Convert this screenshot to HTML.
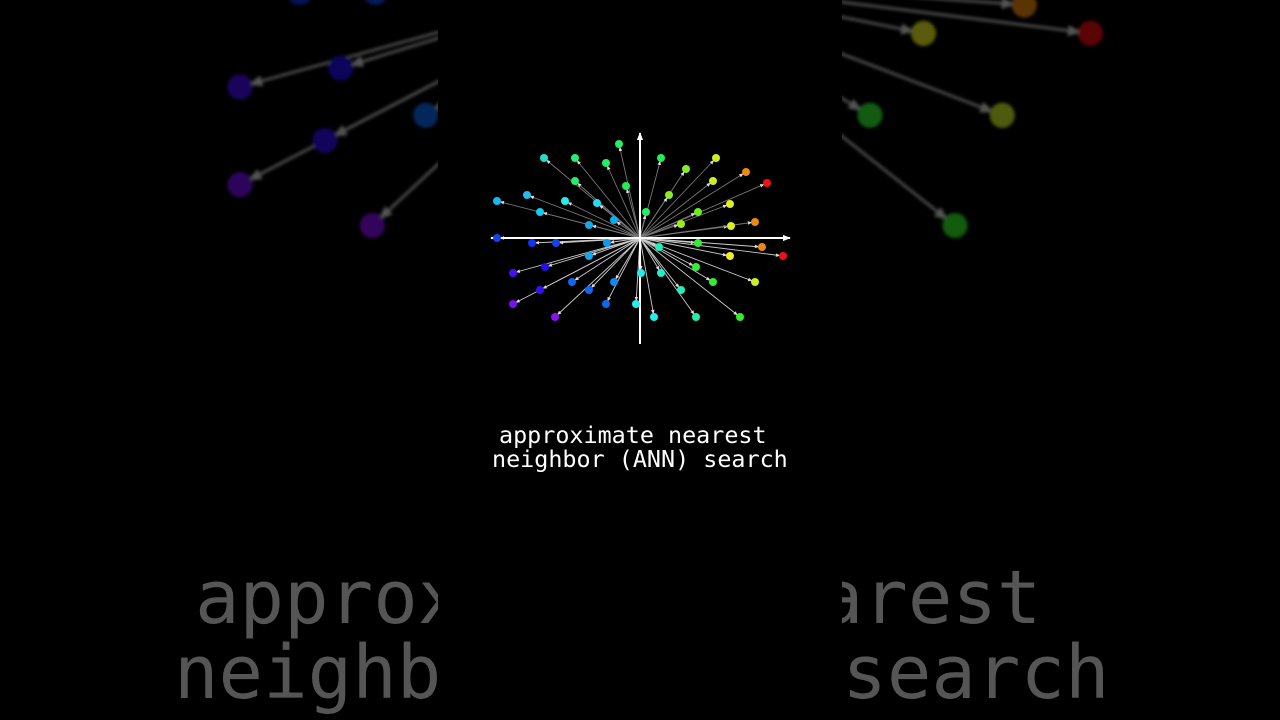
<!DOCTYPE html>
<html><head><meta charset="utf-8"><style>
html,body{margin:0;padding:0;background:#000;width:1280px;height:720px;overflow:hidden}
svg{display:block}
</style></head><body>
<svg width="1280" height="720" viewBox="0 0 1280 720" xmlns="http://www.w3.org/2000/svg">
<defs>
<marker id="ah" viewBox="0 0 10 10" refX="16" refY="5" markerWidth="5" markerHeight="5" orient="auto"><path d="M0,1 L10,5 L0,9 z" fill="#ddd"/></marker>
<marker id="ax" viewBox="0 0 10 10" refX="9" refY="5" markerWidth="8" markerHeight="8" orient="auto" markerUnits="userSpaceOnUse"><path d="M0,1 L10,5 L0,9 z" fill="#fff"/></marker>
<filter id="bl"><feGaussianBlur stdDeviation="1.5"/></filter>
<g id="plot">
<g stroke-width="0.9" marker-end="url(#ah)">
<g stroke="#777">
<line x1="640" y1="238" x2="619" y2="144"/><line x1="640" y1="238" x2="544" y2="158"/><line x1="640" y1="238" x2="575" y2="158"/><line x1="640" y1="238" x2="606" y2="163"/><line x1="640" y1="238" x2="661" y2="158"/><line x1="640" y1="238" x2="686" y2="169"/><line x1="640" y1="238" x2="716" y2="158"/><line x1="640" y1="238" x2="746" y2="172"/><line x1="640" y1="238" x2="767" y2="183"/><line x1="640" y1="238" x2="575" y2="181"/><line x1="640" y1="238" x2="626" y2="186"/><line x1="640" y1="238" x2="713" y2="181"/><line x1="640" y1="238" x2="669" y2="195"/><line x1="640" y1="238" x2="527" y2="195"/><line x1="640" y1="238" x2="497" y2="201"/><line x1="640" y1="238" x2="565" y2="201"/><line x1="640" y1="238" x2="597" y2="203"/><line x1="640" y1="238" x2="646" y2="212"/><line x1="640" y1="238" x2="698" y2="212"/><line x1="640" y1="238" x2="730" y2="204"/><line x1="640" y1="238" x2="540" y2="212"/><line x1="640" y1="238" x2="614" y2="220"/><line x1="640" y1="238" x2="681" y2="224"/><line x1="640" y1="238" x2="731" y2="226"/><line x1="640" y1="238" x2="755" y2="222"/><line x1="640" y1="238" x2="589" y2="225"/>
</g>
<g stroke="#ccc">
<line x1="640" y1="238" x2="497" y2="238"/><line x1="640" y1="238" x2="532" y2="243"/><line x1="640" y1="238" x2="556" y2="243"/><line x1="640" y1="238" x2="607" y2="243"/><line x1="640" y1="238" x2="698" y2="243"/><line x1="640" y1="238" x2="659" y2="247"/><line x1="640" y1="238" x2="762" y2="247"/><line x1="640" y1="238" x2="730" y2="256"/><line x1="640" y1="238" x2="783" y2="256"/><line x1="640" y1="238" x2="589" y2="256"/><line x1="640" y1="238" x2="545" y2="267"/><line x1="640" y1="238" x2="696" y2="267"/><line x1="640" y1="238" x2="513" y2="273"/><line x1="640" y1="238" x2="641" y2="273"/><line x1="640" y1="238" x2="661" y2="273"/><line x1="640" y1="238" x2="713" y2="282"/><line x1="640" y1="238" x2="755" y2="282"/><line x1="640" y1="238" x2="572" y2="282"/><line x1="640" y1="238" x2="614" y2="282"/><line x1="640" y1="238" x2="540" y2="290"/><line x1="640" y1="238" x2="681" y2="290"/><line x1="640" y1="238" x2="589" y2="290"/><line x1="640" y1="238" x2="513" y2="304"/><line x1="640" y1="238" x2="606" y2="304"/><line x1="640" y1="238" x2="636" y2="304"/><line x1="640" y1="238" x2="555" y2="317"/><line x1="640" y1="238" x2="654" y2="317"/><line x1="640" y1="238" x2="696" y2="317"/><line x1="640" y1="238" x2="740" y2="317"/>
</g>
</g>
<g stroke="#fff" stroke-width="2">
<line x1="640" y1="238" x2="491" y2="238" marker-end="url(#ax)"/>
<line x1="640" y1="238" x2="790" y2="238" marker-end="url(#ax)"/>
<line x1="640" y1="238" x2="640" y2="133" marker-end="url(#ax)"/>
<line x1="640" y1="238" x2="640" y2="344"/>
</g>
<g>
<circle cx="619" cy="144" r="4" fill="#22ee66"/><circle cx="544" cy="158" r="4" fill="#22ddcc"/><circle cx="575" cy="158" r="4" fill="#22ee77"/><circle cx="606" cy="163" r="4" fill="#22ee66"/><circle cx="661" cy="158" r="4" fill="#22ee55"/><circle cx="686" cy="169" r="4" fill="#88ee22"/><circle cx="716" cy="158" r="4" fill="#ccee22"/><circle cx="746" cy="172" r="4" fill="#ee8811"/><circle cx="767" cy="183" r="4" fill="#ee1111"/><circle cx="575" cy="181" r="4" fill="#22ee66"/><circle cx="626" cy="186" r="4" fill="#22ee55"/><circle cx="713" cy="181" r="4" fill="#ccee22"/><circle cx="669" cy="195" r="4" fill="#88ee22"/><circle cx="527" cy="195" r="4" fill="#22bbee"/><circle cx="497" cy="201" r="4" fill="#11bbee"/><circle cx="565" cy="201" r="4" fill="#22eeee"/><circle cx="597" cy="203" r="4" fill="#22ddee"/><circle cx="646" cy="212" r="4" fill="#22ee66"/><circle cx="698" cy="212" r="4" fill="#66ee22"/><circle cx="730" cy="204" r="4" fill="#ddee22"/><circle cx="540" cy="212" r="4" fill="#11ccee"/><circle cx="614" cy="220" r="4" fill="#11aaee"/><circle cx="681" cy="224" r="4" fill="#99ee11"/><circle cx="731" cy="226" r="4" fill="#ddee22"/><circle cx="755" cy="222" r="4" fill="#ee8811"/><circle cx="589" cy="225" r="4" fill="#11aaee"/>
<circle cx="497" cy="238" r="4" fill="#1144ee"/><circle cx="532" cy="243" r="4" fill="#1133ee"/><circle cx="556" cy="243" r="4" fill="#1144ee"/><circle cx="607" cy="243" r="4" fill="#1199ee"/><circle cx="698" cy="243" r="4" fill="#33ee33"/><circle cx="659" cy="247" r="4" fill="#22eebb"/><circle cx="762" cy="247" r="4" fill="#ee8811"/><circle cx="730" cy="256" r="4" fill="#eeee22"/><circle cx="783" cy="256" r="4" fill="#ee1111"/><circle cx="589" cy="256" r="4" fill="#11aaee"/><circle cx="545" cy="267" r="4" fill="#2211ee"/><circle cx="696" cy="267" r="4" fill="#33ee33"/><circle cx="513" cy="273" r="4" fill="#4411ee"/><circle cx="641" cy="273" r="4" fill="#22eeee"/><circle cx="661" cy="273" r="4" fill="#22eecc"/><circle cx="713" cy="282" r="4" fill="#33ee33"/><circle cx="755" cy="282" r="4" fill="#ccee22"/><circle cx="572" cy="282" r="4" fill="#1166ee"/><circle cx="614" cy="282" r="4" fill="#1188ee"/><circle cx="540" cy="290" r="4" fill="#3311ee"/><circle cx="681" cy="290" r="4" fill="#22eebb"/><circle cx="589" cy="290" r="4" fill="#1166ee"/><circle cx="513" cy="304" r="4" fill="#7711ee"/><circle cx="606" cy="304" r="4" fill="#1166ee"/><circle cx="636" cy="304" r="4" fill="#22eeee"/><circle cx="555" cy="317" r="4" fill="#8811ee"/><circle cx="654" cy="317" r="4" fill="#22eeee"/><circle cx="696" cy="317" r="4" fill="#22eeaa"/><circle cx="740" cy="317" r="4" fill="#33ee22"/>
</g>
</g>
</defs>
<rect width="1280" height="720" fill="#000"/>
<g opacity="0.38" filter="url(#bl)">
<use href="#plot" transform="matrix(3.15,0,0,3.15,-1376,-773)"/>
</g>
<g fill="#555" font-family="'DejaVu Sans Mono','Liberation Mono',monospace" font-size="74">
<text x="195" y="623">approximate nearest</text>
<text x="174" y="698">neighbor (ANN) search</text>
</g>
<rect x="438" y="0" width="404" height="720" fill="#000"/>
<use href="#plot"/>
<g fill="#fff" font-family="'DejaVu Sans Mono','Liberation Mono',monospace" font-size="23.4">
<text x="499" y="443">approximate nearest</text>
<text x="492" y="467">neighbor (ANN) search</text>
</g>
</svg>
</body></html>
